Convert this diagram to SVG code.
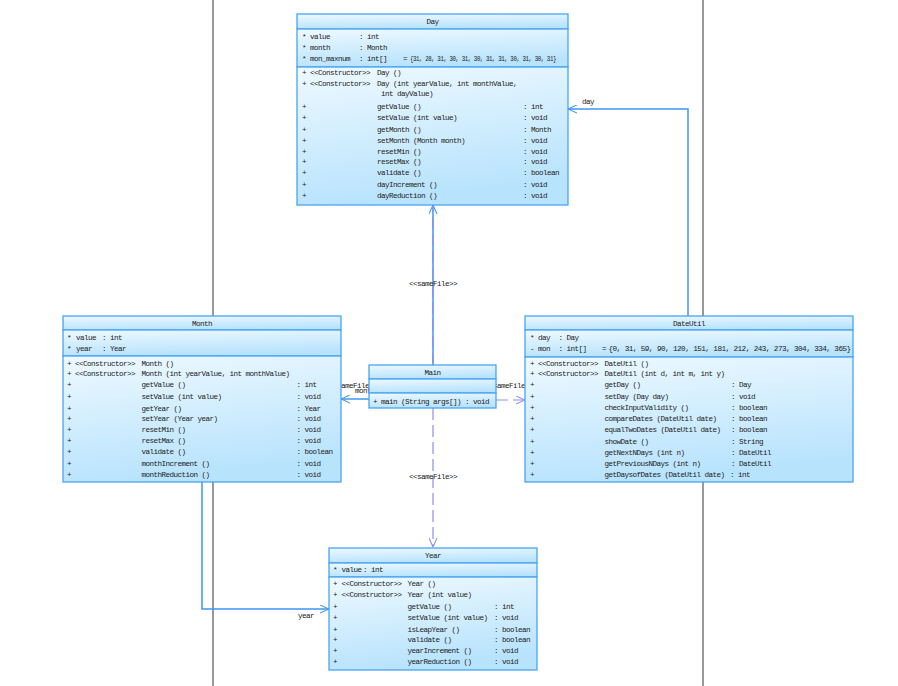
<svg xmlns="http://www.w3.org/2000/svg" width="898" height="686" viewBox="0 0 898 686">
<style>
.t{font-family:"Liberation Mono",monospace;font-size:7.6px;letter-spacing:-0.56px;fill:#222}
.c{text-anchor:middle}
.cmp{fill:url(#g);stroke:#4aa4f4;stroke-width:1.3}
.assoc{stroke:#3f97f2;stroke-width:1.5;fill:none}
.dep{stroke:#8e8ef2;stroke-width:1.2;fill:none;stroke-dasharray:12 5}
.blk{stroke:#333;stroke-width:1}
</style>
<defs>
<linearGradient id="g" x1="0" y1="0" x2="0.25" y2="1">
<stop offset="0" stop-color="#eef9ff"/>
<stop offset="1" stop-color="#b8e3fd"/>
</linearGradient>
<marker id="ab" viewBox="0 0 10 10" refX="10" refY="5" markerWidth="9" markerHeight="9" markerUnits="userSpaceOnUse" orient="auto">
<path d="M0,0.5 L10,5 L0,9.5" fill="none" stroke="#3f97f2" stroke-width="1.2"/>
</marker>
<marker id="ap" viewBox="0 0 10 10" refX="10" refY="5" markerWidth="9" markerHeight="9" markerUnits="userSpaceOnUse" orient="auto">
<path d="M0,0.5 L10,5 L0,9.5" fill="none" stroke="#8e8ef2" stroke-width="1.2"/>
</marker>
</defs>
<rect width="898" height="686" fill="#fff"/>
<line class="blk" x1="213" y1="0" x2="213" y2="686"/>
<line class="blk" x1="703" y1="0" x2="703" y2="686"/>

<g id="connectors">
<path class="assoc" d="M688,316 V109 H568" marker-end="url(#ab)"/>
<text class="t" x="582" y="104">day</text>
<path class="assoc" d="M202,482 V609 H329" marker-end="url(#ab)"/>
<text class="t" x="298" y="618">year</text>
<path class="assoc" d="M369,399 H341" marker-end="url(#ab)"/>
<text class="t" x="355" y="392.5">month</text>
<text class="t" x="329" y="388">&lt;&lt;sameFile&gt;&gt;</text>
<path class="assoc" d="M433,365 V205" marker-end="url(#ab)"/>
<path class="dep" d="M433,365 V205"/>
<text class="t c" x="433" y="285.5">&lt;&lt;sameFile&gt;&gt;</text>
<path class="dep" d="M496,400 H525" marker-end="url(#ap)"/>
<text class="t" x="485" y="388">&lt;&lt;sameFile&gt;&gt;</text>
<path class="dep" d="M433,408 V547" marker-end="url(#ap)"/>
<text class="t c" x="433" y="478.5">&lt;&lt;sameFile&gt;&gt;</text>
</g>

<g id="Day">
<rect class="cmp" x="297" y="14" width="271" height="15"/>
<rect class="cmp" x="297" y="29" width="271" height="38"/>
<rect class="cmp" x="297" y="67" width="271" height="138"/>
<text class="t c" x="432.5" y="24">Day</text>
<text class="t" y="38.5"><tspan x="302">*</tspan><tspan x="310">value</tspan><tspan x="359">: int</tspan></text>
<text class="t" y="49.5"><tspan x="302">*</tspan><tspan x="310">month</tspan><tspan x="359">: Month</tspan></text>
<text class="t" y="61"><tspan x="302">*</tspan><tspan x="310">mon_maxnum</tspan><tspan x="359">: int[]</tspan><tspan x="403">=</tspan></text>
<text class="t" x="410" y="61" textLength="146" lengthAdjust="spacingAndGlyphs">{31, 28, 31, 30, 31, 30, 31, 31, 30, 31, 30, 31}</text>
<text class="t" y="74.5"><tspan x="302">+</tspan><tspan x="310">&lt;&lt;Constructor&gt;&gt;</tspan><tspan x="377">Day ()</tspan></text>
<text class="t" y="85.5"><tspan x="302">+</tspan><tspan x="310">&lt;&lt;Constructor&gt;&gt;</tspan><tspan x="377">Day (int yearValue, int monthValue,</tspan></text>
<text class="t" x="381" y="95.5">int dayValue)</text>
<text class="t" y="108.5"><tspan x="302">+</tspan><tspan x="377">getValue ()</tspan><tspan x="523">: int</tspan></text>
<text class="t" y="119.5"><tspan x="302">+</tspan><tspan x="377">setValue (int value)</tspan><tspan x="523">: void</tspan></text>
<text class="t" y="131.5"><tspan x="302">+</tspan><tspan x="377">getMonth ()</tspan><tspan x="523">: Month</tspan></text>
<text class="t" y="142.5"><tspan x="302">+</tspan><tspan x="377">setMonth (Month month)</tspan><tspan x="523">: void</tspan></text>
<text class="t" y="153.5"><tspan x="302">+</tspan><tspan x="377">resetMin ()</tspan><tspan x="523">: void</tspan></text>
<text class="t" y="164.2"><tspan x="302">+</tspan><tspan x="377">resetMax ()</tspan><tspan x="523">: void</tspan></text>
<text class="t" y="175.2"><tspan x="302">+</tspan><tspan x="377">validate ()</tspan><tspan x="523">: boolean</tspan></text>
<text class="t" y="186.5"><tspan x="302">+</tspan><tspan x="377">dayIncrement ()</tspan><tspan x="523">: void</tspan></text>
<text class="t" y="197.5"><tspan x="302">+</tspan><tspan x="377">dayReduction ()</tspan><tspan x="523">: void</tspan></text>
</g>

<g id="Month">
<rect class="cmp" x="63" y="316" width="278" height="14"/>
<rect class="cmp" x="63" y="330" width="278" height="26"/>
<rect class="cmp" x="63" y="356" width="278" height="126"/>
<text class="t c" x="202" y="325.5">Month</text>
<text class="t" y="339.5"><tspan x="67">*</tspan><tspan x="76">value</tspan><tspan x="102">: int</tspan></text>
<text class="t" y="351"><tspan x="67">*</tspan><tspan x="76">year</tspan><tspan x="102">: Year</tspan></text>
<text class="t" y="365.5"><tspan x="67">+</tspan><tspan x="75">&lt;&lt;Constructor&gt;&gt;</tspan><tspan x="141.5">Month ()</tspan></text>
<text class="t" y="376.2"><tspan x="67">+</tspan><tspan x="75">&lt;&lt;Constructor&gt;&gt;</tspan><tspan x="141.5">Month (int yearValue, int monthValue)</tspan></text>
<text class="t" y="387.2"><tspan x="67">+</tspan><tspan x="141.5">getValue ()</tspan><tspan x="296.5">: int</tspan></text>
<text class="t" y="398.5"><tspan x="67">+</tspan><tspan x="141.5">setValue (int value)</tspan><tspan x="296.5">: void</tspan></text>
<text class="t" y="410.5"><tspan x="67">+</tspan><tspan x="141.5">getYear ()</tspan><tspan x="296.5">: Year</tspan></text>
<text class="t" y="421.2"><tspan x="67">+</tspan><tspan x="141.5">setYear (Year year)</tspan><tspan x="296.5">: void</tspan></text>
<text class="t" y="431.8"><tspan x="67">+</tspan><tspan x="141.5">resetMin ()</tspan><tspan x="296.5">: void</tspan></text>
<text class="t" y="442.8"><tspan x="67">+</tspan><tspan x="141.5">resetMax ()</tspan><tspan x="296.5">: void</tspan></text>
<text class="t" y="453.8"><tspan x="67">+</tspan><tspan x="141.5">validate ()</tspan><tspan x="296.5">: boolean</tspan></text>
<text class="t" y="465.5"><tspan x="67">+</tspan><tspan x="141.5">monthIncrement ()</tspan><tspan x="296.5">: void</tspan></text>
<text class="t" y="476.8"><tspan x="67">+</tspan><tspan x="141.5">monthReduction ()</tspan><tspan x="296.5">: void</tspan></text>
</g>

<g id="Main">
<rect class="cmp" x="369" y="365" width="127" height="14"/>
<rect class="cmp" x="369" y="379" width="127" height="14"/>
<rect class="cmp" x="369" y="393" width="127" height="15"/>
<text class="t c" x="432.5" y="374.5">Main</text>
<text class="t" x="373" y="403.5">+ main (String args[]) : void</text>
</g>

<g id="DateUtil">
<rect class="cmp" x="525" y="316" width="328" height="14"/>
<rect class="cmp" x="525" y="330" width="328" height="27"/>
<rect class="cmp" x="525" y="357" width="328" height="125"/>
<text class="t c" x="689" y="325.5">DateUtil</text>
<text class="t" y="340.2"><tspan x="530">*</tspan><tspan x="538">day</tspan><tspan x="558.5">: Day</tspan></text>
<text class="t" y="351.2"><tspan x="530">-</tspan><tspan x="538">mon</tspan><tspan x="558.5">: int[]</tspan><tspan x="602">=</tspan></text>
<text class="t" x="608.5" y="351.2" textLength="242" lengthAdjust="spacingAndGlyphs">{0, 31, 59, 90, 120, 151, 181, 212, 243, 273, 304, 334, 365}</text>
<text class="t" y="365.5"><tspan x="530">+</tspan><tspan x="538">&lt;&lt;Constructor&gt;&gt;</tspan><tspan x="604.5">DateUtil ()</tspan></text>
<text class="t" y="376.2"><tspan x="530">+</tspan><tspan x="538">&lt;&lt;Constructor&gt;&gt;</tspan><tspan x="604.5">DateUtil (int d, int m, int y)</tspan></text>
<text class="t" y="387.2"><tspan x="530">+</tspan><tspan x="604.5">getDay ()</tspan><tspan x="731">: Day</tspan></text>
<text class="t" y="398.8"><tspan x="530">+</tspan><tspan x="604.5">setDay (Day day)</tspan><tspan x="731">: void</tspan></text>
<text class="t" y="410.2"><tspan x="530">+</tspan><tspan x="604.5">checkInputValidity ()</tspan><tspan x="731">: boolean</tspan></text>
<text class="t" y="421.2"><tspan x="530">+</tspan><tspan x="604.5">compareDates (DateUtil date)</tspan><tspan x="731">: boolean</tspan></text>
<text class="t" y="432.2"><tspan x="530">+</tspan><tspan x="604.5">equalTwoDates (DateUtil date)</tspan><tspan x="731">: boolean</tspan></text>
<text class="t" y="443.5"><tspan x="530">+</tspan><tspan x="604.5">showDate ()</tspan><tspan x="731">: String</tspan></text>
<text class="t" y="454.5"><tspan x="530">+</tspan><tspan x="604.5">getNextNDays (int n)</tspan><tspan x="731">: DateUtil</tspan></text>
<text class="t" y="465.5"><tspan x="530">+</tspan><tspan x="604.5">getPreviousNDays (int n)</tspan><tspan x="731">: DateUtil</tspan></text>
<text class="t" y="476.8"><tspan x="530">+</tspan><tspan x="604.5">getDaysofDates (DateUtil date)</tspan><tspan x="730">: int</tspan></text>
</g>

<g id="Year">
<rect class="cmp" x="329" y="548" width="208" height="15"/>
<rect class="cmp" x="329" y="563" width="208" height="14"/>
<rect class="cmp" x="329" y="577" width="208" height="93"/>
<text class="t c" x="433" y="558">Year</text>
<text class="t" y="571.8"><tspan x="333">*</tspan><tspan x="341.5">value</tspan><tspan x="363">: int</tspan></text>
<text class="t" y="585.8"><tspan x="333">+</tspan><tspan x="341.5">&lt;&lt;Constructor&gt;&gt;</tspan><tspan x="407.5">Year ()</tspan></text>
<text class="t" y="596.5"><tspan x="333">+</tspan><tspan x="341.5">&lt;&lt;Constructor&gt;&gt;</tspan><tspan x="407.5">Year (int value)</tspan></text>
<text class="t" y="609.2"><tspan x="333">+</tspan><tspan x="407.5">getValue ()</tspan><tspan x="494">: int</tspan></text>
<text class="t" y="620.2"><tspan x="333">+</tspan><tspan x="407.5">setValue (int value)</tspan><tspan x="494">: void</tspan></text>
<text class="t" y="631.5"><tspan x="333">+</tspan><tspan x="407.5">isLeapYear ()</tspan><tspan x="494">: boolean</tspan></text>
<text class="t" y="642.2"><tspan x="333">+</tspan><tspan x="407.5">validate ()</tspan><tspan x="494">: boolean</tspan></text>
<text class="t" y="653.2"><tspan x="333">+</tspan><tspan x="407.5">yearIncrement ()</tspan><tspan x="494">: void</tspan></text>
<text class="t" y="664.2"><tspan x="333">+</tspan><tspan x="407.5">yearReduction ()</tspan><tspan x="494">: void</tspan></text>
</g>
</svg>
